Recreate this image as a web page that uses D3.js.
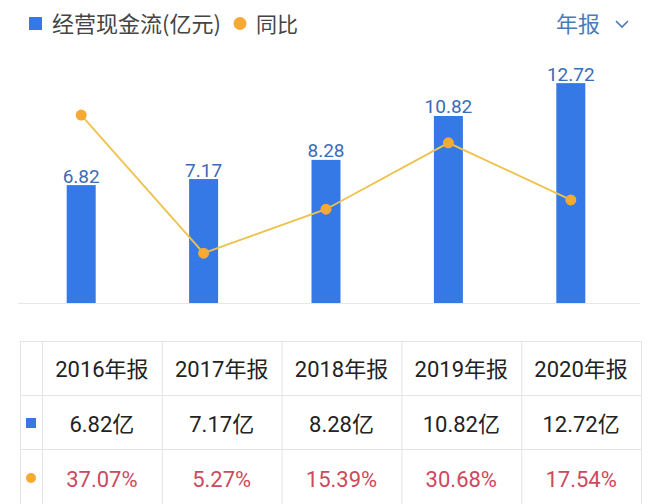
<!DOCTYPE html>
<html><head><meta charset="utf-8">
<script src="https://cdn.jsdelivr.net/npm/d3@7"></script>
<style>
html,body{margin:0;padding:0;background:#fff;}
svg{display:block;}
</style></head>
<body>
<svg id="c" width="660" height="504"></svg>
<script>
const years = ["2016年报","2017年报","2018年报","2019年报","2020年报"];
const cashFlow = [6.82, 7.17, 8.28, 10.82, 12.72];
const yoy = [37.07, 5.27, 15.39, 30.68, 17.54];
const cashLabels = ["6.82亿","7.17亿","8.28亿","10.82亿","12.72亿"];
const yoyLabels = ["37.07%","5.27%","15.39%","30.68%","17.54%"];
const legendNames = ["经营现金流(亿元)","同比"];
const periodLabel = "年报";

const svg = d3.select("#c");
const numFont = "'Roboto', 'Noto Sans CJK SC', sans-serif";
const cjkFont = "'Noto Sans CJK SC', 'Roboto', sans-serif";
const barColor = "#3479e6", labelColor = "#3b6cb4", lineColor = "#efc24c", dotColor = "#f6a933";

// Legend
svg.append("rect").attr("x",29).attr("y",17).attr("width",13).attr("height",13).attr("fill",barColor);
svg.append("text").attr("x",52).attr("y",32).attr("font-family",cjkFont).attr("font-size",22).attr("fill","#444").text(legendNames[0]);
svg.append("circle").attr("cx",240).attr("cy",23.5).attr("r",6.5).attr("fill",dotColor);
svg.append("text").attr("x",256).attr("y",32).attr("font-family",cjkFont).attr("font-size",21).attr("fill","#444").text(legendNames[1]);
svg.append("text").attr("x",556).attr("y",32).attr("font-family",cjkFont).attr("font-size",22).attr("fill","#4a7bb9").text(periodLabel);
svg.append("path").attr("d","M616,21 L622,27 L628,21").attr("fill","none").attr("stroke","#4a7bb9").attr("stroke-width",1.6);

// Scales
const x = d3.scaleBand().domain(years).range([20, 632]).padding(0);
const y = d3.scaleLinear().domain([0, 14]).range([303, 61]);
const y2 = d3.scaleLinear().domain([0, 40]).range([276, 102.4]);
const bw = 29;

// baseline
svg.append("line").attr("x1",18).attr("x2",640).attr("y1",303.5).attr("y2",303.5).attr("stroke","#e6e6e6").attr("stroke-width",1);

// bars
svg.append("g").selectAll("rect").data(cashFlow).join("rect")
  .attr("x",(d,i)=>x(years[i])+x.bandwidth()/2-bw/2)
  .attr("y",d=>y(d)).attr("width",bw).attr("height",d=>y(0)-y(d)).attr("fill",barColor);

svg.append("g").selectAll("text").data(cashFlow).join("text")
  .attr("x",(d,i)=>x(years[i])+x.bandwidth()/2)
  .attr("y",d=>y(d)-2.5).attr("text-anchor","middle")
  .attr("font-family",numFont).attr("font-size",19).attr("fill",labelColor)
  .text(d=>d.toFixed(2));

// line
const line = d3.line().x((d,i)=>x(years[i])+x.bandwidth()/2).y(d=>y2(d));
svg.append("path").datum(yoy).attr("d",line).attr("fill","none").attr("stroke",lineColor).attr("stroke-width",1.8);
svg.append("g").selectAll("circle").data(yoy).join("circle")
  .attr("cx",(d,i)=>x(years[i])+x.bandwidth()/2).attr("cy",d=>y2(d)).attr("r",5.5).attr("fill",dotColor);

// Table
const colX = d3.scaleBand().domain(years).range([42, 641]);
const rowY = [341, 395, 449];
const grid = "#e4e4e4";
const tg = svg.append("g");
rowY.forEach(ry=>{
  tg.append("line").attr("x1",20).attr("x2",641).attr("y1",ry+0.5).attr("y2",ry+0.5).attr("stroke",grid);
});
const vx = [20, 42].concat(years.map(yv=>colX(yv)+colX.bandwidth()));
vx.forEach(v=>{
  tg.append("line").attr("x1",v+0.5).attr("x2",v+0.5).attr("y1",341).attr("y2",504).attr("stroke",grid);
});
tg.selectAll("text.h").data(years).join("text").attr("class","h")
  .attr("x",d=>colX(d)+colX.bandwidth()/2).attr("y",377).attr("text-anchor","middle")
  .attr("font-family",numFont).attr("font-size",22).attr("fill","#222").text(d=>d);
tg.selectAll("text.v").data(cashLabels).join("text").attr("class","v")
  .attr("x",(d,i)=>colX(years[i])+colX.bandwidth()/2).attr("y",432).attr("text-anchor","middle")
  .attr("font-family",numFont).attr("font-size",22).attr("fill","#222").text(d=>d);
tg.selectAll("text.p").data(yoyLabels).join("text").attr("class","p")
  .attr("x",(d,i)=>colX(years[i])+colX.bandwidth()/2).attr("y",487).attr("text-anchor","middle")
  .attr("font-family",numFont).attr("font-size",22).attr("fill","#cc4a5e").text(d=>d);
tg.append("rect").attr("x",26).attr("y",418).attr("width",10).attr("height",10).attr("fill",barColor);
tg.append("circle").attr("cx",31).attr("cy",478).attr("r",5).attr("fill",dotColor);
</script>
</body></html>
